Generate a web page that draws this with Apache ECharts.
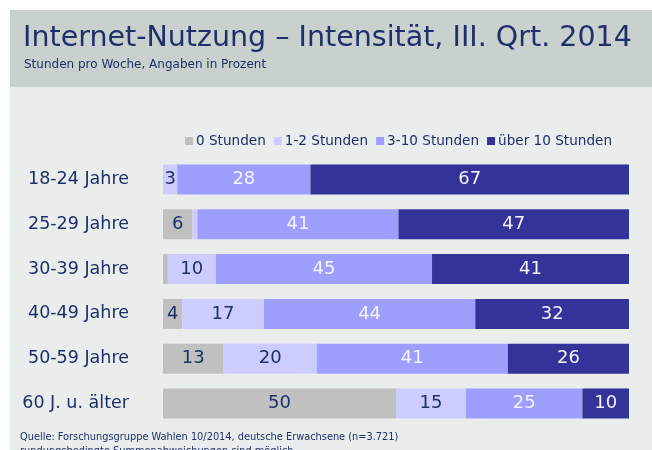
<!DOCTYPE html>
<html>
<head>
<meta charset="utf-8">
<script src="https://cdn.jsdelivr.net/npm/echarts@6/dist/echarts.min.js"></script>
<style>
  html, body { margin: 0; padding: 0; background: #ffffff; }
  #chart { width: 652px; height: 450px; }
</style>
</head>
<body>
<div id="chart"></div>
<script>
  const ageGroups = ['18-24 Jahre', '25-29 Jahre', '30-39 Jahre', '40-49 Jahre', '50-59 Jahre', '60 J. u. älter'];
  const seriesNames = ['0 Stunden', '1-2 Stunden', '3-10 Stunden', 'über 10 Stunden'];
  const stunden0 = [0, 6, 1, 4, 13, 50];
  const stunden1bis2 = [3, 1, 10, 17, 20, 15];
  const stunden3bis10 = [28, 41, 45, 44, 41, 25];
  const ueber10 = [67, 47, 41, 32, 26, 10];

  const colors = ['#c0c0c0', '#ccccff', '#9e9eff', '#333399'];
  const labelColors = ['#1e2f6a', '#1e2f6a', '#f4f4ff', '#f4f4ff'];
  const navy = '#1e2f6a';

  const raw = [stunden0, stunden1bis2, stunden3bis10, ueber10];
  // bars fill the full width (rounded values don't always sum to 100)
  const rowSums = ageGroups.map((_, i) => raw.reduce((s, arr) => s + arr[i], 0));

  const myChart = echarts.init(document.getElementById('chart'));

  const option = {
    backgroundColor: '#ffffff',
    animation: false,
    graphic: [
      { type: 'rect', left: 10, top: 10, shape: { width: 642, height: 440 }, style: { fill: '#e9eeec' }, z: -10 },
      { type: 'rect', left: 10, top: 10, shape: { width: 642, height: 77 }, style: { fill: '#c8d1cd' }, z: -9 },
      {
        type: 'text', left: 23, top: 24,
        style: { text: 'Internet-Nutzung – Intensität, III. Qrt. 2014', fill: navy, font: '28.5px "DejaVu Sans"' }
      },
      {
        type: 'text', left: 24, top: 59,
        style: { text: 'Stunden pro Woche, Angaben in Prozent', fill: navy, font: '12px "DejaVu Sans"' }
      },
      {
        type: 'text', left: 20, top: 430,
        style: { text: 'Quelle: Forschungsgruppe Wahlen 10/2014, deutsche Erwachsene (n=3.721)\nrundungsbedingte Summenabweichungen sind möglich', fill: navy, font: '10.9px "DejaVu Sans Condensed", "DejaVu Sans"', lineHeight: 14 }
      }
    ],
    legend: {
      data: seriesNames,
      left: 180,
      top: 129,
      icon: 'rect',
      itemWidth: 8,
      itemHeight: 8,
      itemGap: 8,
      textStyle: { color: navy, fontSize: 13.6, fontFamily: 'DejaVu Sans', padding: [0, 0, 0, -2] }
    },
    grid: { left: 163, right: 23, top: 157, height: 269 },
    xAxis: { type: 'value', min: 0, max: 100, show: false },
    yAxis: {
      type: 'category',
      data: ageGroups,
      inverse: true,
      axisLine: { show: false },
      axisTick: { show: false },
      axisLabel: { color: navy, fontSize: 17.5, fontFamily: 'DejaVu Sans', margin: 34 }
    },
    series: raw.map((arr, k) => ({
      name: seriesNames[k],
      type: 'bar',
      stack: 'total',
      barWidth: 30,
      itemStyle: { color: colors[k] },
      label: {
        show: true,
        position: 'inside',
        color: labelColors[k],
        fontSize: 18,
        fontFamily: 'DejaVu Sans',
        formatter: p => (p.data.raw >= 2 ? String(p.data.raw) : '')
      },
      data: arr.map((v, i) => ({ value: v / rowSums[i] * 100, raw: v }))
    }))
  };

  myChart.setOption(option);
</script>
</body>
</html>
